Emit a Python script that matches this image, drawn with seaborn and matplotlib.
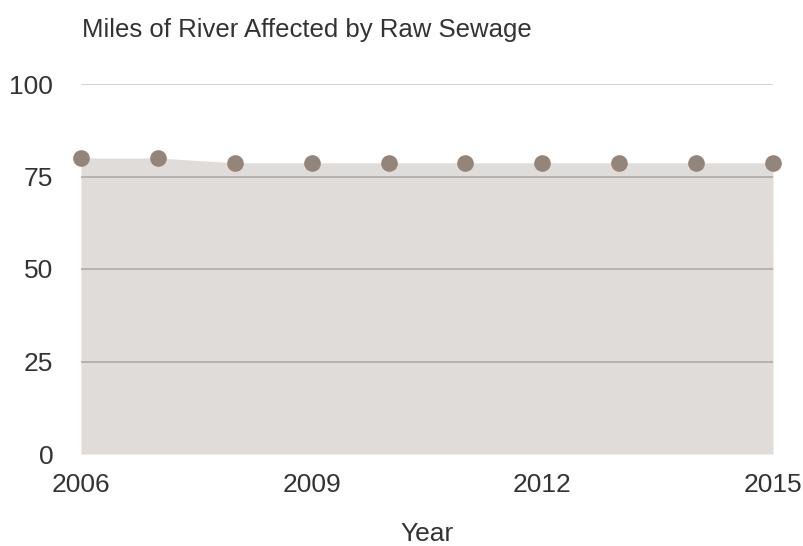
import matplotlib
matplotlib.use("Agg")
import matplotlib.pyplot as plt
import seaborn as sns
import pandas as pd

years = [2006, 2007, 2008, 2009, 2010, 2011, 2012, 2013, 2014, 2015]
miles = [80, 80, 78.7, 78.7, 78.7, 78.7, 78.7, 78.7, 78.7, 78.7]
y_ticks = [0, 25, 50, 75, 100]
x_ticks = [2006, 2009, 2012, 2015]

df = pd.DataFrame({"Year": years, "Miles": miles})

sns.set_theme(style="white")
plt.rcParams["font.family"] = ["Liberation Sans", "DejaVu Sans"]

fig = plt.figure(figsize=(8.04, 5.46), dpi=100)
ax = fig.add_axes([81 / 804, 1 - 454 / 546, (773 - 81) / 804, (454 - 84) / 546])

fill_color = "#e0dcd9"
marker_color = "#938579"
text_color = "#333333"

ax.fill_between(df["Year"], df["Miles"], 0, color=fill_color, linewidth=0, zorder=1)

# horizontal reference lines
for t in y_ticks[1:]:
    ax.axhline(t, color="#cfcfcf" if t == 100 else "#b3aeaa", linewidth=1.3, zorder=2)

sns.lineplot(data=df, x="Year", y="Miles", ax=ax, color=fill_color, linewidth=0,
             marker="o", markersize=12, markeredgewidth=0,
             markerfacecolor=marker_color, zorder=3)
for ln in ax.lines[-1:]:
    ln.set_clip_on(False)

ax.set_xlim(2006, 2015)
ax.set_ylim(0, 100)
ax.set_xticks(x_ticks)
ax.set_yticks(y_ticks)
ax.tick_params(axis="both", length=0, labelsize=19, labelcolor=text_color)
ax.tick_params(axis="x", pad=14)
ax.tick_params(axis="y", pad=20)
for lbl in ax.get_yticklabels():
    lbl.set_horizontalalignment("right")

for s in ax.spines.values():
    s.set_visible(False)

ax.set_ylabel("")
ax.set_xlabel("Year", fontsize=19, color=text_color, labelpad=18)
fig.text(82 / 804, 1 - 30 / 546, "Miles of River Affected by Raw Sewage",
         fontsize=18.5, color=text_color, va="center", ha="left")

fig.savefig("out.png", dpi=100)
